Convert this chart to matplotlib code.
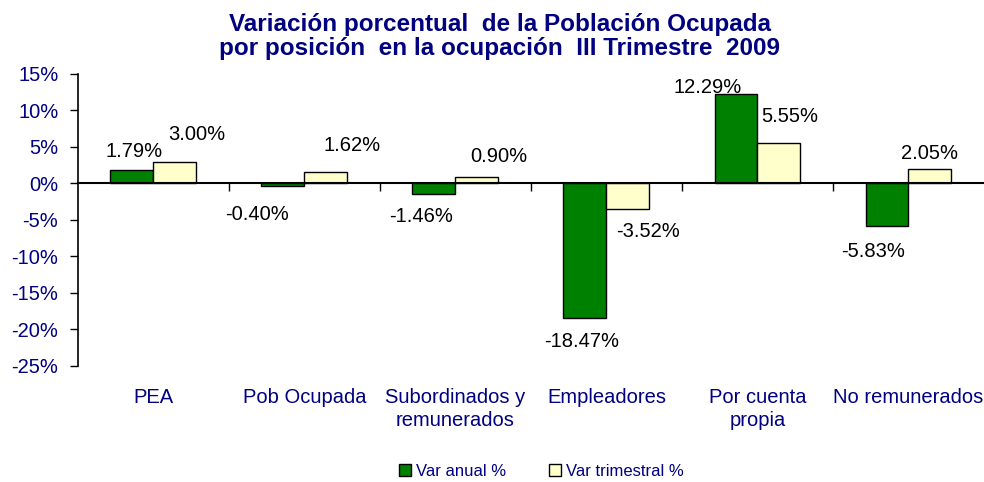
import numpy as np
import matplotlib.pyplot as plt
from matplotlib.patches import Patch
from matplotlib.transforms import blended_transform_factory

categorias = ['PEA', 'Pob Ocupada', 'Subordinados y\nremunerados', 'Empleadores',
              'Por cuenta\npropia', 'No remunerados']
var_anual = [1.79, -0.40, -1.46, -18.47, 12.29, -5.83]
var_trimestral = [3.00, 1.62, 0.90, -3.52, 5.55, 2.05]
y_ticks = [15, 10, 5, 0, -5, -10, -15, -20, -25]

# label offsets in pixels (dx, dy) from bar end
off_anual = [(2, 19), (-26, -28), (-13, -22), (-3, -23), (-28, 6), (-14, -25)]
off_trim = [(22, 27), (26, 26), (22, 20), (20, -22), (11, 26), (0, 15)]

plt.rcParams['font.family'] = ['Liberation Sans', 'DejaVu Sans']
navy = '#000080'

fig = plt.figure(figsize=(9.84, 4.82), dpi=100)
ax = fig.add_axes([0.079, 0.2407, 0.921, 0.6058])

x = np.arange(len(categorias))
w = 0.284
b1 = ax.bar(x - w / 2, var_anual, w, color='#008000', edgecolor='black', linewidth=1, zorder=2)
b2 = ax.bar(x + w / 2, var_trimestral, w, color='#FFFFCC', edgecolor='black', linewidth=1, zorder=2)

for bars, vals, offs in [(b1, var_anual, off_anual), (b2, var_trimestral, off_trim)]:
    for rect, v, (dx, dy) in zip(bars, vals, offs):
        xc = rect.get_x() + rect.get_width() / 2
        ax.annotate(f'{v:.2f}%', (xc, v), xytext=(dx, dy), textcoords='offset pixels',
                    ha='center', va='center', fontsize=14.5, color='black')

ax.set_xlim(-0.5, len(categorias) - 0.5)
ax.set_ylim(-25, 15)
ax.set_yticks(y_ticks)
ax.set_yticklabels([f'{t}%' for t in y_ticks], color=navy, fontsize=14.5)
ax.tick_params(axis='y', direction='out', length=6, width=1, pad=8)

ax.spines['top'].set_visible(False)
ax.spines['right'].set_visible(False)
ax.spines['bottom'].set_position(('data', 0))
ax.spines['left'].set_linewidth(1.2)
ax.spines['bottom'].set_linewidth(1.5)
ax.set_xticks(x[:-1] + 0.5)
ax.set_xticklabels([])
ax.tick_params(axis='x', direction='out', length=6, width=1)

trans = blended_transform_factory(ax.transData, ax.transAxes)
for xi, lab in zip(x, categorias):
    ax.text(xi, -0.075, lab, transform=trans, ha='center', va='top',
            fontsize=14.5, color=navy, linespacing=1.3)

fig.text(0.508, 0.925, 'Variación porcentual  de la Población Ocupada\npor posición  en la ocupación  III Trimestre  2009',
         ha='center', va='center', fontsize=17.5, fontweight='bold', color=navy, linespacing=1.05)

handles = [Patch(facecolor='#008000', edgecolor='black', label='Var anual %'),
           Patch(facecolor='#FFFFCC', edgecolor='black', label='Var trimestral %')]
leg = fig.legend(handles=handles, loc='center', bbox_to_anchor=(0.55, 0.022), ncol=2,
                 frameon=False, fontsize=12, handlelength=0.7, handleheight=0.7,
                 handletextpad=0.3, columnspacing=2.6)
for t in leg.get_texts():
    t.set_color(navy)

fig.savefig('out.png', dpi=100)
